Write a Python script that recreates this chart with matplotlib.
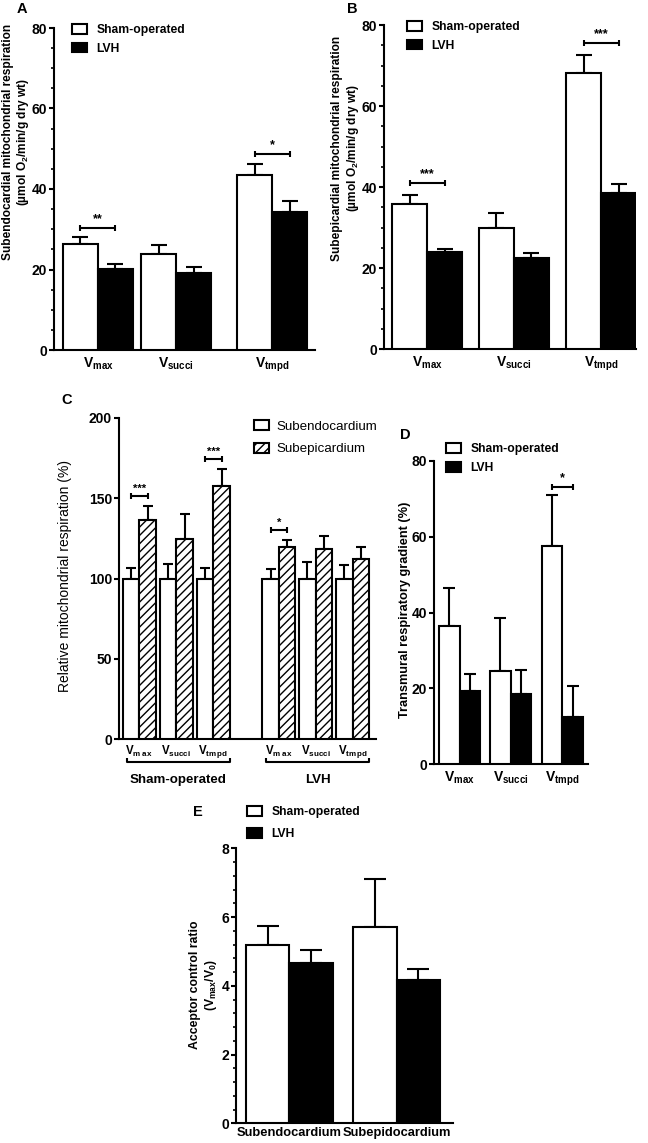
import matplotlib
matplotlib.use("Agg")
import matplotlib.pyplot as plt
from matplotlib.patches import Patch
from matplotlib.ticker import MultipleLocator
import matplotlib.transforms as mtrans
import numpy as np

plt.rcParams['font.family'] = ['Liberation Sans', 'DejaVu Sans']
plt.rcParams['mathtext.fontset'] = 'custom'
plt.rcParams['mathtext.rm'] = 'Liberation Sans'
plt.rcParams['mathtext.bf'] = 'Liberation Sans:bold'
plt.rcParams['mathtext.it'] = 'Liberation Sans:italic'
plt.rcParams['hatch.linewidth'] = 1.0

# ---------------- DATA ----------------
substrates = ['max', 'succi', 'tmpd']
groups = ['Sham-operated', 'LVH']

# Panel A: subendocardial respiration
A_sham = [26.4, 23.9, 43.4]
A_sham_err = [1.6, 2.1, 2.7]
A_lvh = [20.2, 19.1, 34.3]
A_lvh_err = [1.1, 1.6, 2.7]
A_sig = [(0, '**', 30.4), (2, '*', 48.8)]

# Panel B: subepicardial respiration
B_sham = [35.9, 29.8, 68.2]
B_sham_err = [2.2, 3.7, 4.3]
B_lvh = [24.0, 22.4, 38.5]
B_lvh_err = [0.8, 1.4, 2.3]
B_sig = [(0, '***', 41.1), (2, '***', 75.5)]

# Panel C: relative respiration (%)
C_endo = [100, 100, 100, 100, 100, 100]
C_endo_err = [6.5, 9.2, 6.5, 5.7, 10.0, 8.4]
C_epi = [136.6, 124.8, 157.5, 119.4, 118.1, 112.3]
C_epi_err = [8.7, 15.1, 10.4, 4.5, 8.5, 7.1]
C_sig = [(0, '***', 151.5), (2, '***', 174.3), (3, '*', 130.2)]
C_labels = ['max', 'succi', 'tmpd', 'max', 'succi', 'tmpd']

# Panel D: transmural respiratory gradient (%)
D_sham = [36.5, 24.6, 57.5]
D_sham_err = [10.0, 13.9, 13.4]
D_lvh = [19.4, 18.5, 12.3]
D_lvh_err = [4.3, 6.2, 8.4]
D_sig = [(2, '*', 73.1)]

# Panel E: acceptor control ratio
E_cats = ['Subendocardium', 'Subepidocardium']
E_sham = [5.20, 5.71]
E_sham_err = [0.54, 1.41]
E_lvh = [4.67, 4.17]
E_lvh_err = [0.36, 0.31]

# ---------------- LAYOUT ----------------
W, H = 648, 1143
fig = plt.figure(figsize=(W / 100, H / 100), dpi=100)


def rect(l, t, r, b):
    return [l / W, 1 - b / H, (r - l) / W, (b - t) / H]


def fx(x):
    return x / W


def fy(y):
    return 1 - y / H


LW = 1.5
TICK_FS = 10


def style_axis(ax, ymax, major, minor=None, tick_fs=TICK_FS):
    for s in ['top', 'right']:
        ax.spines[s].set_visible(False)
    for s in ['left', 'bottom']:
        ax.spines[s].set_linewidth(LW)
    ax.set_ylim(0, ymax)
    ax.yaxis.set_major_locator(MultipleLocator(major))
    if minor:
        ax.yaxis.set_minor_locator(MultipleLocator(minor))
    ax.tick_params(axis='y', which='major', width=LW, length=3.5,
                   labelsize=tick_fs, pad=1.5)
    ax.tick_params(axis='y', which='minor', width=1.2, length=2)
    ax.tick_params(axis='x', length=0, labelsize=tick_fs, pad=4)
    for lab in ax.get_yticklabels():
        lab.set_fontweight('bold')


def sig_bracket(ax, x0, x1, y, text, cap=2.5, fs=9, dy=2):
    ax.errorbar([(x0 + x1) / 2], [y], xerr=[(x1 - x0) / 2], fmt='none',
                ecolor='black', elinewidth=LW, capsize=cap, capthick=LW,
                clip_on=False)
    ax.annotate(text, xy=((x0 + x1) / 2, y), xytext=(0, dy),
                textcoords='offset points', ha='center', va='bottom',
                fontsize=fs, fontweight='bold', annotation_clip=False)


def paired(ax, centers, sham, sham_err, lvh, lvh_err, width, cap):
    centers = np.asarray(centers)
    ax.bar(centers - width / 2, sham, width, color='white', edgecolor='black',
           linewidth=LW, zorder=3)
    ax.bar(centers + width / 2, lvh, width, color='black', edgecolor='black',
           linewidth=LW, zorder=3)
    n = len(sham)
    ax.errorbar(centers - width / 2, sham, yerr=[np.zeros(n), sham_err],
                fmt='none', ecolor='black', elinewidth=LW, capsize=cap,
                capthick=LW, zorder=2)
    ax.errorbar(centers + width / 2, lvh, yerr=[np.zeros(n), lvh_err],
                fmt='none', ecolor='black', elinewidth=LW, capsize=cap,
                capthick=LW, zorder=2)


def group_legend(ax, x, y, fs=8.7, labels=groups, hatch=False, weight='bold',
                 hl=1.27, hh=0.85, ls=0.55, tp=0.75):
    if hatch:
        handles = [Patch(facecolor='white', edgecolor='black', linewidth=LW),
                   Patch(facecolor='white', edgecolor='black', linewidth=LW,
                         hatch='////')]
    else:
        handles = [Patch(facecolor='white', edgecolor='black', linewidth=LW),
                   Patch(facecolor='black', edgecolor='black', linewidth=LW)]
    leg = ax.legend(handles, labels, loc='upper left',
                    bbox_to_anchor=(fx(x), fy(y)),
                    bbox_transform=fig.transFigure, frameon=False,
                    borderpad=0, borderaxespad=0, handlelength=hl,
                    handleheight=hh, labelspacing=ls, handletextpad=tp,
                    prop={'size': fs, 'weight': weight})
    return leg


def vlabel(s):
    return r'$\mathbf{V_{%s}}$' % s


# ---------------- PANEL A ----------------
axA = fig.add_axes(rect(54, 28, 315, 350))
A_pos = [1.257, 3.486, 6.229]
paired(axA, A_pos, A_sham, A_sham_err, A_lvh, A_lvh_err, 1.0, 6)
axA.set_xlim(0, 7.457)
style_axis(axA, 80, 20, 5)
axA.set_xticks(A_pos)
axA.set_xticklabels([vlabel(s) for s in substrates])
for i, t, y in A_sig:
    sig_bracket(axA, A_pos[i] - 0.5, A_pos[i] + 0.5, y, t)
group_legend(axA, 72, 24)
fig.text(fx(16.5), fy(142),
         'Subendocardial mitochondrial respiration\n'
         r'(µmol O$_\mathbf{2}$/min/g dry wt)',
         rotation=90, ha='center', va='center', multialignment='center',
         fontsize=8.6, fontweight='bold', linespacing=1.15)
fig.text(fx(22), fy(9), 'A', fontsize=10.5, fontweight='bold',
         ha='center', va='center')

# ---------------- PANEL B ----------------
axB = fig.add_axes(rect(384, 25, 636, 349))
B_pos = [1.229, 3.714, 6.2]
paired(axB, B_pos, B_sham, B_sham_err, B_lvh, B_lvh_err, 1.0, 6)
axB.set_xlim(0, 7.2)
style_axis(axB, 80, 20, 5)
axB.set_xticks(B_pos)
axB.set_xticklabels([vlabel(s) for s in substrates])
for i, t, y in B_sig:
    sig_bracket(axB, B_pos[i] - 0.5, B_pos[i] + 0.5, y, t)
group_legend(axB, 407, 21)
fig.text(fx(346), fy(148),
         'Subepicardial mitochondrial respiration\n'
         r'(µmol O$_\mathbf{2}$/min/g dry wt)',
         rotation=90, ha='center', va='center', multialignment='center',
         fontsize=8.6, fontweight='bold', linespacing=1.15)
fig.text(fx(352), fy(9), 'B', fontsize=10.5, fontweight='bold',
         ha='center', va='center')

# ---------------- PANEL C ----------------
axC = fig.add_axes(rect(119, 417.7, 375.7, 739.3))
C_base = np.array([0, 1, 2, 3.77, 4.77, 5.77]) + 0.549
cw = 0.446
axC.bar(C_base - cw / 2, C_endo, cw, color='white', edgecolor='black',
        linewidth=LW, zorder=3)
axC.bar(C_base + cw / 2, C_epi, cw, color='white', edgecolor='black',
        linewidth=LW, hatch='////', zorder=3)
n6 = len(C_endo)
axC.errorbar(C_base - cw / 2, C_endo, yerr=[np.zeros(n6), C_endo_err],
             fmt='none', ecolor='black', elinewidth=LW, capsize=3.5,
             capthick=LW, zorder=2)
axC.errorbar(C_base + cw / 2, C_epi, yerr=[np.zeros(n6), C_epi_err],
             fmt='none', ecolor='black', elinewidth=LW, capsize=3.5,
             capthick=LW, zorder=2)
axC.set_xlim(0, 6.94)
style_axis(axC, 200, 50)
axC.set_xticks(C_base)
axC.set_xticklabels([r'$\mathbf{V_{%s}}$' % (r'\,'.join(s) if s == 'max'
                     else ('tm\\,pd' if s == 'tmpd' else s))
                     for s in C_labels], fontsize=8.3)
axC.tick_params(axis='x', pad=3)
for i, t, y in C_sig:
    sig_bracket(axC, C_base[i] - cw / 2, C_base[i] + cw / 2, y, t,
                cap=2.5, fs=8, dy=1.5)
group_legend(axC, 254, 420, fs=9.6, labels=['Subendocardium', 'Subepicardium'],
             hatch=True, weight='normal', hl=1.1, hh=0.8, ls=0.75, tp=0.6)
# group brackets below axis
trC = mtrans.blended_transform_factory(axC.transData, axC.transAxes)
hC = 739.3 - 417.7
yb = -(762 - 739.3) / hC
ytop = -(758 - 739.3) / hC
for gi, gname in enumerate(groups):
    x0 = C_base[gi * 3] - cw + 0.1
    x1 = C_base[gi * 3 + 2] + cw
    axC.plot([x0, x0, x1, x1], [ytop, yb, yb, ytop], color='black', lw=1.5,
             transform=trC, clip_on=False, solid_capstyle='butt')
    axC.text((x0 + x1) / 2, -(780 - 739.3) / hC, gname,
             transform=trC, ha='center', va='center', fontsize=9.6,
             fontweight='bold')
fig.text(fx(65), fy(576), 'Relative mitochondrial respiration (%)',
         rotation=90, ha='center', va='center', fontsize=10)
fig.text(fx(67), fy(400), 'C', fontsize=10.5, fontweight='bold',
         ha='center', va='center')

# ---------------- PANEL D ----------------
axD = fig.add_axes(rect(434, 461, 588, 764))
D_pos = [1.24, 3.705, 6.2]
paired(axD, D_pos, D_sham, D_sham_err, D_lvh, D_lvh_err, 1.0, 4.5)
axD.set_xlim(0, 7.44)
style_axis(axD, 80, 20)
axD.set_xticks(D_pos)
axD.set_xticklabels([vlabel(s) for s in substrates])
for i, t, y in D_sig:
    sig_bracket(axD, D_pos[i] - 0.5, D_pos[i] + 0.5, y, t)
group_legend(axD, 446, 443, ls=0.6)
fig.text(fx(405), fy(610), 'Transmural respiratory gradient (%)',
         rotation=90, ha='center', va='center', fontsize=9.2,
         fontweight='bold')
fig.text(fx(405), fy(435), 'D', fontsize=10.5, fontweight='bold',
         ha='center', va='center')

# ---------------- PANEL E ----------------
axE = fig.add_axes(rect(236, 848.3, 453, 1123.3))
E_pos = [1.225, 3.694]
paired(axE, E_pos, E_sham, E_sham_err, E_lvh, E_lvh_err, 1.0, 8)
axE.set_xlim(0, 4.99)
style_axis(axE, 8, 2, 0.4)
axE.set_xticks(E_pos)
axE.set_xticklabels(E_cats, fontweight='bold', fontsize=9.3)
axE.tick_params(axis='x', pad=3)
group_legend(axE, 247, 806, ls=0.85)
fig.text(fx(204), fy(985),
         'Acceptor control ratio\n'
         r'(V$_\mathbf{max}$/V$_\mathbf{0}$)',
         rotation=90, ha='center', va='center', multialignment='center',
         fontsize=8.8, fontweight='bold', linespacing=1.2)
fig.text(fx(198), fy(812), 'E', fontsize=10.5, fontweight='bold',
         ha='center', va='center')

fig.savefig('out.png', dpi=100)
